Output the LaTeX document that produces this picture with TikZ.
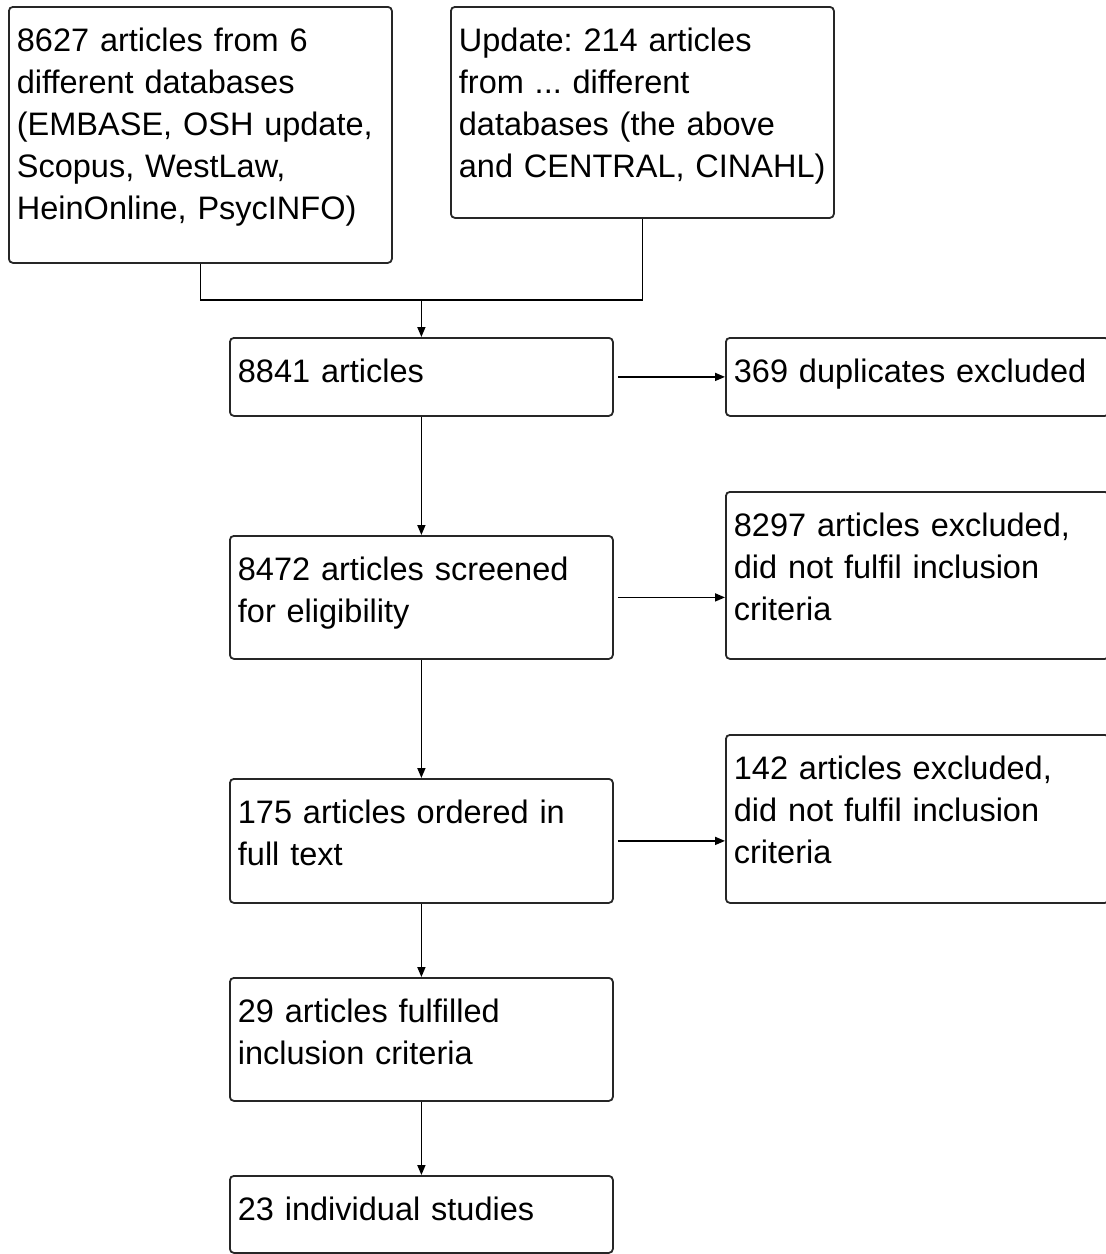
\documentclass[tikz,border=0pt]{standalone}
\usepackage{fontspec}
\setmainfont{Liberation Sans}
\frenchspacing
\usetikzlibrary{arrows.meta}

\begin{document}
\begin{tikzpicture}[x=1pt,y=-1pt]
\useasboundingbox (0,0) rectangle (1106,1254);
\clip (0,0) rectangle (1106,1254);
\begin{scope}[every node/.style={rectangle,draw=black!85,line width=1.8pt,rounded corners=4pt,
              anchor=north west,inner xsep=8pt,inner ysep=0pt,text width=367pt,align=left,
              text height=45pt,font=\fontsize{32.5}{42}\selectfont}]
    \node[text depth=211pt] (found) at (8,6) {8627 articles from 6\\different databases\\(EMBASE, OSH update,\\Scopus, WestLaw,\\HeinOnline, PsycINFO)};
    \node[text depth=166pt] (update) at (450,6) {Update: 214 articles\\from ... different\\databases (the above\\and CENTRAL, CINAHL)};
    \node[text depth=33pt] (total) at (229,337) {8841 articles};
    \node[text depth=33pt] (dupl) at (725,337) {369 duplicates excluded};
    \node[text depth=78pt] (screen) at (229,535) {8472 articles screened\\for eligibility};
    \node[text depth=122pt] (excl) at (725,491) {8297 articles excluded,\\did not fulfil inclusion\\criteria};
    \node[text depth=79pt] (full) at (229,778) {175 articles ordered in\\full text};
    \node[text depth=123pt] (exclfull) at (725,734) {142 articles excluded,\\did not fulfil inclusion\\criteria};
    \node[text depth=78pt] (incl) at (229,977) {29 articles fulfilled\\inclusion criteria};
    \node[text depth=32pt] (studies) at (229,1175) {23 individual studies};
\end{scope}

\begin{scope}[>={Triangle[length=10pt,width=8pt]},line width=1.6pt]
    \coordinate (merge) at (total.north |- 0,300);
    \draw (found.south) |- (merge) -| (update.south);
    \path [->] (merge) edge (total.north);
    \path [->] (total.east) edge[shorten <=4pt] (total.east -| dupl.west);
    \path [->] (total.south) edge (screen.north);
    \path [->] (screen.east) edge[shorten <=4pt] (screen.east -| excl.west);
    \path [->] (screen.south) edge (full.north);
    \path [->] (full.east) edge[shorten <=4pt] (full.east -| exclfull.west);
    \path [->] (full.south) edge (incl.north);
    \path [->] (incl.south) edge (studies.north);
\end{scope}
\end{tikzpicture}
\end{document}
